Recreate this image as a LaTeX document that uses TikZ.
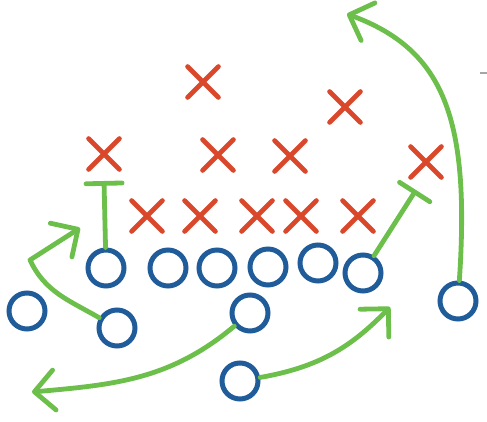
\documentclass[tikz,border=0pt]{standalone}
\usetikzlibrary{arrows.meta, shapes.misc}

\definecolor{playblue}{HTML}{1F5C99}
\definecolor{playred}{HTML}{D9482B}
\definecolor{playgreen}{HTML}{6BBF4A}

\begin{document}
\begin{tikzpicture}[
        x = 1pt, y = 1pt,
        > = {Straight Barb[length = 20pt, width = 40pt, round]},
        offense/.style = {circle, draw = playblue, line width = 5pt, minimum size = 36pt, inner sep = 0pt},
        defense/.style = {cross out, draw = playred, line width = 4.8pt, line cap = round, minimum size = 26pt, inner sep = 0pt},
        route/.style = {draw = playgreen, line width = 4.8pt, line cap = round, line join = round},
        block/.style = {-{Bar[width = 36pt, round]}}
    ]
        \useasboundingbox (0,0) rectangle (487,422);

        \node[defense] (d1) at (203,340) {};
        \node[defense] (d2) at (345,315) {};
        \node[defense] (d3) at (104,268) {};
        \node[defense] (d4) at (218,267) {};
        \node[defense] (d5) at (290,266) {};
        \node[defense] (d6) at (426,260) {};
        \node[defense] (d7) at (147,206) {};
        \node[defense] (d8) at (200,206) {};
        \node[defense] (d9) at (257,206) {};
        \node[defense] (d10) at (301,206) {};
        \node[defense] (d11) at (358,206) {};

        \node[offense] (o1) at (106,154) {};
        \node[offense] (o2) at (168,154) {};
        \node[offense] (o3) at (217,154) {};
        \node[offense] (o4) at (268,155) {};
        \node[offense] (o5) at (318,159) {};
        \node[offense] (o6) at (363,149) {};
        \node[offense] (o7) at (27,111) {};
        \node[offense] (o8) at (117,94) {};
        \node[offense] (o9) at (250,109) {};
        \node[offense] (o10) at (458,121) {};
        \node[offense] (o11) at (240,41) {};

        \coordinate (b1) at (104,241);
        \coordinate (b2) at (416,232);
        \coordinate (c2) at (30,162);
        \coordinate (t2) at (80,194);
        \coordinate (t3) at (32,30);
        \coordinate (t4) at (390,115);
        \coordinate (t6) at (347,408);

        \draw[route, block] (o1) -- (b1);
        \draw[route, block] (o6) -- (b2);
        \draw[route, ->] (o8) to[out = 150, in = -65] (c2) -- (t2);
        \draw[route, ->] (o9) to[out = 220, in = 5] (t3);
        \draw[route, ->] (o11) to[out = 10, in = 226] (t4);
        \draw[route, ->] (o10) .. controls (470,302) and (445,372) .. (t6);

        \draw[gray!70, line width = 2pt] (480,349) -- (487,349);
    \end{tikzpicture}
\end{document}
